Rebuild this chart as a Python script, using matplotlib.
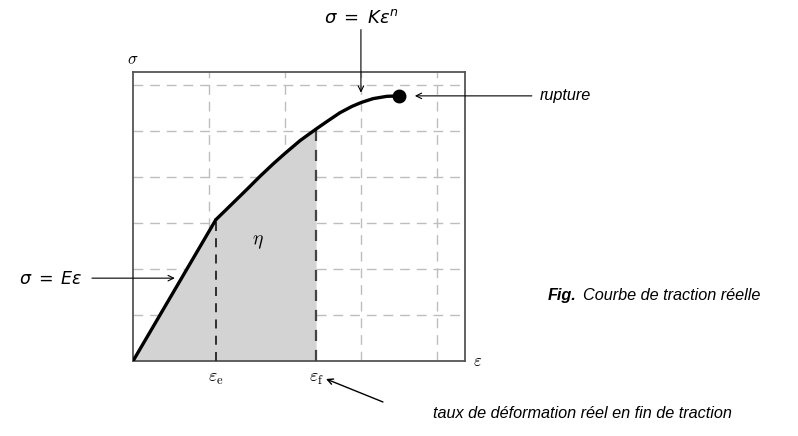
import numpy as np
import matplotlib
matplotlib.use("Agg")
import matplotlib.pyplot as plt

plt.rcParams["font.family"] = ["Liberation Sans", "DejaVu Sans"]
plt.rcParams["mathtext.fontset"] = "dejavusans"

# courbe contrainte-déformation (unités de grille)
eps_elast = [0.0, 1.09]
sig_elast = [0.0, 3.07]
eps_plast = [1.09, 1.19, 1.32, 1.50, 1.67, 1.85, 2.0, 2.20, 2.41,
             2.55, 2.72, 2.88, 3.01, 3.16, 3.34, 3.5]
sig_plast = [3.07, 3.23, 3.44, 3.73, 4.01, 4.29, 4.51, 4.79, 5.04,
             5.20, 5.39, 5.53, 5.62, 5.70, 5.75, 5.76]
eps_e = 1.09
eps_f = 2.41
i_f = 8  # indice de eps_f dans eps_plast

fig = plt.figure(figsize=(7.98, 4.36), dpi=100)
ax = fig.add_axes([0.1667, 0.172, 0.416, 0.663])
ax.set_xlim(0, 4.37)
ax.set_ylim(0, 6.28)

for v in [1, 2, 3, 4]:
    ax.axvline(v, color="#bdbdbd", lw=1, ls=(0, (7, 5)), zorder=1)
for h in [1, 2, 3, 4, 5, 6]:
    ax.axhline(h, color="#bdbdbd", lw=1, ls=(0, (7, 5)), zorder=1)

# aire sous la courbe jusqu'à eps_f
xs = eps_elast + eps_plast[1:i_f + 1]
ys = sig_elast + sig_plast[1:i_f + 1]
ax.fill_between(xs, ys, 0, color="#d3d3d3", lw=0, zorder=2)

ax.plot(eps_elast, sig_elast, color="black", lw=2.4, zorder=4, solid_capstyle="round")
ax.plot(eps_plast, sig_plast, color="black", lw=2.4, zorder=4,
        solid_capstyle="round", solid_joinstyle="round")
ax.plot([eps_plast[-1]], [sig_plast[-1]], "o", color="black", ms=9, zorder=5)

ax.plot([eps_e, eps_e], [0, sig_elast[-1]], color="#222222", lw=1.3, ls=(0, (5, 4)), zorder=3)
ax.plot([eps_f, eps_f], [0, sig_plast[i_f]], color="#444444", lw=1.6, ls=(0, (5, 4)), zorder=3)

for s in ax.spines.values():
    s.set_color("#555555")
    s.set_linewidth(1.3)
ax.set_xticks([])
ax.set_yticks([])

# étiquettes des axes
ax.text(0, 6.54, r"$\sigma$", math_fontfamily="cm", fontsize=12, ha="center", va="center")
ax.text(4.54, 0.0, r"$\varepsilon$", math_fontfamily="cm", fontsize=12, ha="center", va="center")
ax.text(eps_e, -0.37, r"$\varepsilon_{\rm e}$", math_fontfamily="cm", fontsize=13, ha="center", va="center")
ax.text(eps_f, -0.37, r"$\varepsilon_{\rm f}$", math_fontfamily="cm", fontsize=13, ha="center", va="center")
ax.text(1.64, 2.57, r"$\eta$", math_fontfamily="cm", fontsize=14, ha="center", va="center")

arrow = dict(arrowstyle="->", color="black", lw=0.8, shrinkA=0, shrinkB=0)

ax.text(3.0, 7.46, r"$\sigma\;=\;K\varepsilon^n$", fontsize=13, ha="center", va="center")
ax.annotate("", xy=(3.0, 5.83), xytext=(3.0, 7.2), annotation_clip=False, arrowprops=arrow)

ax.annotate("", xy=(3.71, 5.76), xytext=(5.25, 5.76), annotation_clip=False, arrowprops=arrow)
ax.text(5.36, 5.76, "rupture", style="italic", fontsize=11.7, ha="left", va="center")

ax.annotate("", xy=(0.55, 1.8), xytext=(-0.54, 1.8), annotation_clip=False, arrowprops=arrow)
ax.text(-0.67, 1.8, r"$\sigma\;=\;E\varepsilon$", fontsize=12.5, ha="right", va="center")

ax.annotate("", xy=(2.54, -0.39), xytext=(3.29, -0.89), annotation_clip=False,
            arrowprops=dict(arrow, lw=1.0))
ax.text(3.95, -1.15, "taux de déformation réel en fin de traction", style="italic",
        fontsize=11.7, ha="left", va="center")

ax.text(5.46, 1.43, "Fig.", style="italic", weight="bold", fontsize=11.7, ha="left", va="center")
ax.text(5.92, 1.43, "Courbe de traction réelle", style="italic", fontsize=11.7, ha="left", va="center")

fig.savefig("out.png", dpi=100)
